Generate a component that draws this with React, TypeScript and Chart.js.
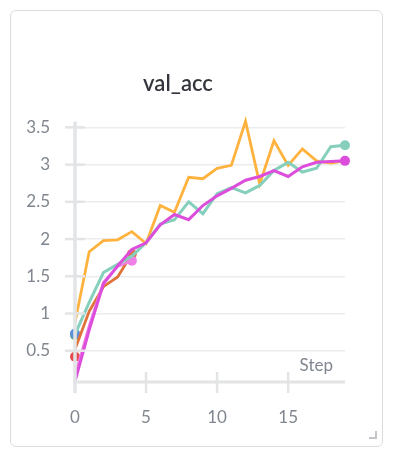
import React, { useEffect, useRef } from "react";
import { Chart, registerables } from "chart.js";

Chart.register(...registerables);

const steps = [0, 1, 2, 3, 4, 5, 6, 7, 8, 9, 10, 11, 12, 13, 14, 15, 16, 17, 18, 19];
const orangeRun = [0.88, 1.83, 1.98, 1.99, 2.1, 1.94, 2.45, 2.36, 2.83, 2.81, 2.95, 2.99, 3.58, 2.74, 3.32, 2.99, 3.21, 3.05, 3.02, 3.05];
const tealRun = [0.72, 1.15, 1.55, 1.66, 1.77, 1.95, 2.2, 2.26, 2.5, 2.34, 2.61, 2.69, 2.62, 2.72, 2.92, 3.03, 2.9, 2.95, 3.24, 3.26];
const magentaRun = [0.09, 0.78, 1.4, 1.64, 1.86, 1.95, 2.19, 2.33, 2.26, 2.45, 2.58, 2.68, 2.79, 2.84, 2.92, 2.84, 2.97, 3.03, 3.04, 3.05];
const rustRun = [0.52, 1.03, 1.36, 1.49, 1.8];
const pinkRun = [0.17, 0.84, 1.42, 1.63, 1.71];
const blueRun = [0.73];
const greenRun = [0.71];
const redRun = [0.42];

const yTicks = [0.5, 1, 1.5, 2, 2.5, 3, 3.5];
const xTicks = [0, 5, 10, 15];
const yMin = 0.08;
const yMax = 3.58;
const xMin = 0;
const xMax = 19;

const FONT = "Lato, 'Noto Sans', sans-serif";
const GRAY = "#80868f";

const pts = (vals: number[]) => vals.map((v, i) => ({ x: steps[i], y: v }));

export default function App() {
  const ref = useRef<HTMLCanvasElement | null>(null);

  useEffect(() => {
    if (!ref.current) return;
    const lastDot = (ctx: any) => (ctx.dataIndex === ctx.dataset.data.length - 1 ? 5 : 0);
    const mk = (label: string, vals: number[], color: string, width: number, dot = true) => ({
      label,
      data: pts(vals),
      borderColor: color,
      backgroundColor: color,
      borderWidth: width,
      pointRadius: dot ? lastDot : 0,
      pointHoverRadius: 0,
      pointBorderWidth: 0,
      tension: 0,
      clip: false as any,
    });

    const axisPlugin = {
      id: "axisPlugin",
      afterDatasetsDraw(chart: any) {
        const { ctx, chartArea, scales } = chart;
        const x = scales.x;
        const y = scales.y;
        const left = x.getPixelForValue(xMin);
        const bottom = chartArea.bottom;
        ctx.save();
        ctx.strokeStyle = "#e3e4e6";
        ctx.lineCap = "butt";
        ctx.lineWidth = 3.5;
        ctx.beginPath();
        ctx.moveTo(left, chartArea.top);
        ctx.lineTo(left, bottom + 11);
        ctx.stroke();
        ctx.lineWidth = 3;
        ctx.beginPath();
        ctx.moveTo(left - 2, bottom);
        ctx.lineTo(chartArea.right, bottom);
        ctx.stroke();
        ctx.lineWidth = 2.5;
        xTicks.forEach((t) => {
          if (t === xMin) return;
          const px = x.getPixelForValue(t);
          ctx.beginPath();
          ctx.moveTo(px, bottom - 10);
          ctx.lineTo(px, bottom + 11);
          ctx.stroke();
        });
        yTicks.forEach((t) => {
          const py = y.getPixelForValue(t);
          ctx.beginPath();
          ctx.moveTo(left - 10, py);
          ctx.lineTo(left + 10, py);
          ctx.stroke();
        });
        ctx.fillStyle = GRAY;
        ctx.font = `17px ${FONT}`;
        ctx.textAlign = "right";
        ctx.textBaseline = "middle";
        ctx.fillText("Step", chartArea.right - 12, bottom - 16);
        ctx.restore();
      },
    };

    const chart = new Chart(ref.current, {
      type: "line",
      data: {
        datasets: [
          mk("magenta", magentaRun, "#dc4ddc", 3),
          mk("teal", tealRun, "#86cfbd", 3),
          mk("orange", orangeRun, "#ffb23e", 2.8, false),
          mk("pink", pinkRun, "#f07fe6", 2.5),
          mk("rust", rustRun, "#e0733a", 2.8),
          mk("blue", blueRun, "#5b8fd9", 2),
          mk("green", greenRun, "#5aa86a", 2),
          mk("red", redRun, "#e54b4b", 2),
        ],
      },
      options: {
        animation: false,
        responsive: false,
        devicePixelRatio: 1,
        events: [],
        layout: { padding: { left: 0, right: 37, top: 0, bottom: 0 } },
        plugins: {
          legend: { display: false },
          tooltip: { enabled: false },
          title: {
            display: true,
            text: "val_acc",
            color: "#33363d",
            font: { family: FONT, size: 22, weight: "600" as any },
            padding: { top: 60, bottom: 24 },
          },
        },
        scales: {
          x: {
            type: "linear",
            min: xMin,
            max: xMax,
            afterBuildTicks: (s: any) => {
              s.ticks = xTicks.map((v) => ({ value: v }));
            },
            afterFit: (s: any) => {
              s.height = 64;
            },
            grid: { display: false, drawTicks: false },
            border: { display: false },
            ticks: {
              color: GRAY,
              font: { family: FONT, size: 17 },
              padding: 25,
              maxRotation: 0,
              callback: (v: any) => String(v),
            },
          },
          y: {
            type: "linear",
            min: yMin,
            max: yMax,
            afterBuildTicks: (s: any) => {
              s.ticks = yTicks.map((v) => ({ value: v }));
            },
            afterFit: (s: any) => {
              s.width = 64;
            },
            grid: { color: "#ececee", lineWidth: 1.5, drawTicks: false },
            border: { display: false },
            ticks: {
              color: GRAY,
              font: { family: FONT, size: 17 },
              padding: 25,
              callback: (v: any) => String(v),
            },
          },
        },
      },
      plugins: [axisPlugin],
    });
    return () => chart.destroy();
  }, []);

  return (
    <div
      style={{
        position: "absolute",
        left: 10,
        top: 10,
        width: 371,
        height: 435,
        border: "1px solid #dcdcdf",
        borderRadius: 6,
        background: "#fff",
      }}
    >
      <canvas ref={ref} width={371} height={435} style={{ display: "block", width: 371, height: 435 }} />
      <div
        style={{
          position: "absolute",
          right: 5,
          bottom: 7,
          width: 6,
          height: 6,
          borderRight: "2px solid #c4c5c9",
          borderBottom: "2px solid #c4c5c9",
        }}
      />
    </div>
  );
}
